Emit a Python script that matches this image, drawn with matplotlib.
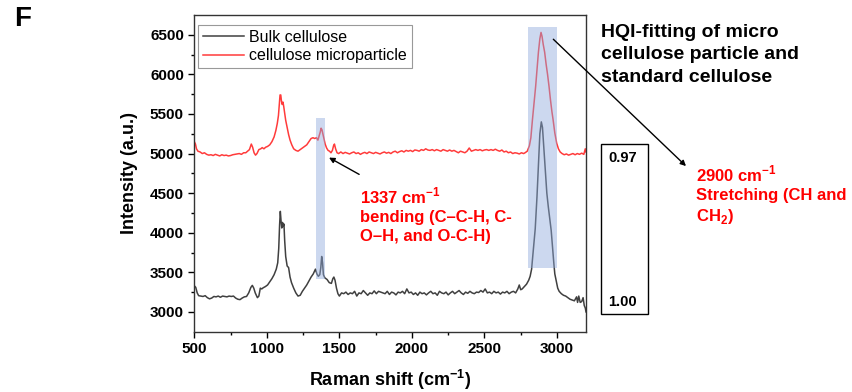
import numpy as np
import matplotlib
matplotlib.use("Agg")
import matplotlib.pyplot as plt
from matplotlib.patches import Rectangle

plt.rcParams['font.family'] = ['Liberation Sans', 'DejaVu Sans']
plt.rcParams['mathtext.fontset'] = 'custom'
plt.rcParams['mathtext.rm'] = 'Liberation Sans'
plt.rcParams['mathtext.bf'] = 'Liberation Sans:bold'

# Raman spectra, intensity (a.u.) vs Raman shift (cm-1)
bulk_x = [500, 510, 520, 530, 545, 560, 575, 590, 605, 620, 635, 650, 665, 680, 695, 710, 725, 740, 755, 770,
          785, 800, 815, 830, 845, 860, 875, 890, 900, 910, 920, 935, 945, 955, 965, 975, 990, 1005, 1020, 1035,
          1050, 1065, 1075, 1082, 1088, 1093, 1098, 1103, 1108, 1113, 1118, 1123, 1130, 1140, 1150, 1160, 1170,
          1185, 1200, 1215, 1230, 1245, 1260, 1275, 1290, 1305, 1320, 1335, 1345, 1355, 1365, 1372, 1378, 1384,
          1390, 1400, 1415, 1430, 1445, 1455, 1462, 1470, 1480, 1490, 1500, 1515, 1530, 1545, 1560, 1575, 1590,
          1605, 1620, 1635, 1650, 1665, 1680, 1695, 1710, 1725, 1740, 1755, 1770, 1785, 1800, 1815, 1830, 1845,
          1860, 1875, 1890, 1905, 1920, 1935, 1950, 1965, 1980, 1995, 2010, 2025, 2040, 2055, 2070, 2085, 2100,
          2115, 2130, 2145, 2160, 2175, 2190, 2205, 2220, 2235, 2250, 2265, 2280, 2295, 2310, 2325, 2340, 2355,
          2370, 2385, 2400, 2415, 2430, 2445, 2460, 2475, 2490, 2505, 2520, 2535, 2550, 2565, 2580, 2595, 2610,
          2625, 2640, 2655, 2670, 2685, 2700, 2715, 2730, 2740, 2750, 2760, 2775, 2790, 2805, 2815, 2825, 2838,
          2850, 2862, 2872, 2882, 2892, 2900, 2910, 2920, 2930, 2940, 2950, 2960, 2970, 2978, 2985, 2995, 3005,
          3015, 3030, 3045, 3060, 3075, 3090, 3105, 3120, 3135, 3142, 3150, 3160, 3170, 3180, 3188, 3195, 3200]
bulk_y = [3330, 3310, 3240, 3205, 3200, 3195, 3205, 3180, 3165, 3175, 3195, 3190, 3200, 3185, 3200, 3195, 3190, 3200, 3195, 3200,
          3175, 3160, 3155, 3175, 3190, 3195, 3240, 3310, 3335, 3300, 3240, 3180, 3200, 3300, 3290, 3305, 3320, 3340, 3380, 3420,
          3470, 3540, 3620, 3800, 4100, 4270, 4150, 4060, 4130, 4080, 4110, 3900, 3700, 3580, 3560, 3440, 3370,
          3300, 3240, 3200, 3210, 3260, 3300, 3340, 3390, 3440, 3480, 3540, 3480, 3450, 3470, 3560, 3700, 3620,
          3470, 3430, 3410, 3370, 3360, 3420, 3440, 3400, 3300, 3230, 3200, 3240, 3230, 3250, 3220, 3240, 3230,
          3260, 3200, 3240, 3230, 3270, 3240, 3210, 3240, 3230, 3265, 3230, 3260, 3250, 3240, 3230, 3260, 3220,
          3250, 3240, 3215, 3250, 3240, 3260, 3230, 3290, 3240, 3250, 3220, 3240, 3210, 3250, 3230, 3240, 3215,
          3240, 3260, 3230, 3240, 3210, 3260, 3240, 3230, 3250, 3215, 3240, 3260, 3230, 3250, 3270, 3240, 3220,
          3250, 3235, 3260, 3240, 3230, 3250, 3245, 3270, 3250, 3290, 3240, 3250, 3230, 3260, 3240, 3250, 3225,
          3250, 3240, 3260, 3230, 3250, 3260, 3240, 3290, 3340, 3280, 3290, 3320, 3350, 3400, 3450, 3540, 3800,
          4050, 4450, 4850, 5250, 5400, 5330, 5050, 4750, 4500, 4330, 4180, 4030, 3800, 3620, 3480, 3390, 3300,
          3260, 3230, 3210, 3200, 3180, 3160, 3150, 3140, 3190, 3120, 3200, 3120, 3130, 3180, 3080, 3050, 3000]

micro_x = [500, 508, 515, 525, 540, 555, 570, 585, 600, 615, 630, 645, 660, 675, 690, 705, 720, 735, 750, 765,
           780, 795, 810, 825, 840, 855, 868, 880, 893, 902, 912, 922, 932, 945, 958, 968, 980, 992, 1005, 1020,
           1035, 1050, 1062, 1072, 1080, 1086, 1091, 1096, 1101, 1106, 1111, 1116, 1122, 1130, 1140, 1150, 1160,
           1172, 1185, 1200, 1215, 1230, 1245, 1260, 1275, 1290, 1305, 1318, 1330, 1342, 1352, 1360, 1368, 1374,
           1380, 1386, 1394, 1402, 1412, 1422, 1432, 1442, 1452, 1460, 1466, 1474, 1484, 1495, 1510, 1525, 1540,
           1555, 1570, 1585, 1600, 1615, 1630, 1645, 1660, 1675, 1690, 1705, 1720, 1735, 1750, 1765, 1780, 1795,
           1810, 1825, 1840, 1855, 1870, 1885, 1900, 1915, 1930, 1945, 1960, 1975, 1990, 2005, 2020, 2035, 2050,
           2065, 2080, 2095, 2110, 2125, 2140, 2155, 2170, 2185, 2200, 2215, 2230, 2245, 2260, 2275, 2290, 2305,
           2320, 2335, 2350, 2365, 2380, 2395, 2410, 2425, 2440, 2455, 2470, 2485, 2500, 2515, 2530, 2545, 2560,
           2575, 2590, 2605, 2620, 2635, 2650, 2665, 2680, 2695, 2710, 2725, 2740, 2755, 2770, 2780, 2795, 2810,
           2820, 2831, 2842, 2853, 2862, 2872, 2882, 2890, 2897, 2905, 2915, 2925, 2935, 2945, 2955, 2965, 2973,
           2985, 2998, 3010, 3022, 3035, 3050, 3065, 3080, 3095, 3110, 3125, 3140, 3155, 3170, 3185, 3195, 3200]
micro_y = [5150, 5120, 5060, 5030, 5020, 5000, 5010, 4990, 4980, 4985, 4975, 4990, 4980, 4970, 4985, 4975, 4980, 4970, 4975, 4985,
           4990, 4995, 5000, 4990, 5010, 5010, 5030, 5050, 5120, 5080, 5010, 4980, 5000, 5050, 5060, 5075, 5060, 5080, 5090, 5110,
           5150, 5210, 5290, 5380, 5480, 5620, 5740, 5740, 5660, 5620, 5650, 5600, 5520, 5420, 5330, 5240, 5170,
           5110, 5060, 5040, 5030, 5050, 5070, 5090, 5110, 5150, 5190, 5200, 5190, 5200, 5170, 5220, 5270, 5320,
           5300, 5250, 5180, 5120, 5070, 5040, 5030, 5010, 5040, 5100, 5120, 5060, 5010, 5000, 5020, 5000, 5015,
           5005, 4995, 5010, 5020, 5000, 5010, 4990, 5005, 5015, 5000, 5020, 5010, 5000, 5015, 5005, 4995, 5010,
           5020, 5005, 5015, 5000, 5020, 5030, 5010, 5025, 5035, 5020, 5040, 5030, 5040, 5025, 5045, 5040, 5030,
           5050, 5040, 5060, 5045, 5040, 5050, 5035, 5050, 5040, 5030, 5050, 5040, 5030, 5045, 5030, 5040, 5025,
           5010, 5030, 5020, 5010, 5030, 5070, 5030, 5040, 5050, 5040, 5050, 5035, 5045, 5050, 5040, 5050, 5040,
           5055, 5040, 5030, 5045, 5020, 5030, 5010, 5020, 5000, 5010, 5005, 4995, 5010, 5000, 5010, 5030, 5100,
           5200, 5430, 5640, 5850, 6060, 6280, 6450, 6530, 6480, 6380, 6280, 6130, 6000, 5850, 5680, 5530, 5430,
           5260, 5130, 5060, 5020, 5000, 4985, 4995, 4980, 4990, 5000, 4985, 5000, 4990, 5005, 4990, 5060, 5020]

# highlighted bands: (x0, x1, y0, y1)
bands = [(1340, 1400, 3420, 5450), (2800, 3000, 3550, 6600)]

hqi_values = ["0.97", "1.00"]

fig = plt.figure(figsize=(8.52, 3.92), dpi=100)
ax = fig.add_axes([194.3 / 852, 1 - 331.7 / 392, (586 - 194.3) / 852, (331.7 - 15) / 392])

ax.plot(bulk_x, bulk_y, color='#404040', lw=1.1, label='Bulk cellulose')
ax.plot(micro_x, micro_y, color='#ff3b3b', lw=1.1, label='cellulose microparticle')

for x0, x1, y0, y1 in bands:
    ax.add_patch(Rectangle((x0, y0), x1 - x0, y1 - y0, facecolor='#8faadc',
                           edgecolor='none', alpha=0.45, zorder=3))

ax.set_xlim(500, 3200)
ax.set_ylim(2750, 6750)
ax.set_xticks(np.arange(500, 3001, 500))
ax.set_yticks(np.arange(3000, 6501, 500))
ax.set_xticks(np.arange(750, 3200, 500), minor=True)
ax.set_yticks(np.arange(3250, 6750, 500), minor=True)
ax.tick_params(which='major', direction='out', length=4, width=1, labelsize=11)
ax.tick_params(which='minor', direction='out', length=2.5, width=1)
for lab in ax.get_xticklabels() + ax.get_yticklabels():
    lab.set_fontweight('bold')
for sp in ax.spines.values():
    sp.set_linewidth(1.0)
    sp.set_color('#333333')

ax.set_xlabel('Raman shift (cm$^{\\mathbf{-1}}$)', fontsize=13, fontweight='bold')
ax.set_ylabel('Intensity (a.u.)', fontsize=13, fontweight='bold')
ax.xaxis.set_label_coords(0.5, -0.115)
ax.yaxis.set_label_coords(-0.145, 0.5)

leg = ax.legend(loc='upper left', bbox_to_anchor=(0.0094, 0.968), borderaxespad=0,
                fontsize=11.5, handlelength=2.6, handletextpad=0.3, borderpad=0.3,
                labelspacing=0.2, fancybox=False, framealpha=1)
leg.get_frame().set_edgecolor('#999999')
leg.get_frame().set_linewidth(0.8)

# 1337 cm-1 band callout
ax.annotate('', xy=(1412, 4966), xytext=(1653, 4720),
            arrowprops=dict(arrowstyle='-|>', color='black', lw=1, mutation_scale=8))
fig.text(360 / 852, 1 - 186 / 392,
         '1337 cm$^{\\mathbf{-1}}$\nbending (C\u2013C-H, C-\nO\u2013H, and O-C-H)',
         color='red', fontsize=12, fontweight='bold', va='top', ha='left', linespacing=1.3)

# 2900 cm-1 band callout, runs outside the axes
ax.annotate('', xy=(688 / 852, 1 - 168 / 392), xycoords='figure fraction',
            xytext=(2961, 6468), textcoords='data', annotation_clip=False,
            arrowprops=dict(arrowstyle='-|>', color='black', lw=1, mutation_scale=8))
fig.text(696 / 852, 1 - 164 / 392,
         '2900 cm$^{\\mathbf{-1}}$\nStretching (CH and\nCH$_{\\mathbf{2}}$)',
         color='red', fontsize=12, fontweight='bold', va='top', ha='left', linespacing=1.3)

fig.text(601 / 852, 1 - 24 / 392, 'HQI-fitting of micro\ncellulose particle and\nstandard cellulose',
         color='black', fontsize=14, fontweight='bold', va='top', ha='left', linespacing=1.42)

# HQI score box
fig.add_artist(Rectangle((601 / 852, 1 - 314 / 392), 47 / 852, 170 / 392,
                         transform=fig.transFigure, facecolor='none',
                         edgecolor='black', lw=1))
fig.text(608 / 852, 1 - 157.5 / 392, hqi_values[0], fontsize=10.5, fontweight='bold',
         va='center', ha='left')
fig.text(608 / 852, 1 - 301.5 / 392, hqi_values[1], fontsize=10.5, fontweight='bold',
         va='center', ha='left')

fig.text(14 / 852, 1 - 19 / 392, 'F', fontsize=20, fontweight='bold', va='center', ha='left')

fig.savefig('out.png', dpi=100)
